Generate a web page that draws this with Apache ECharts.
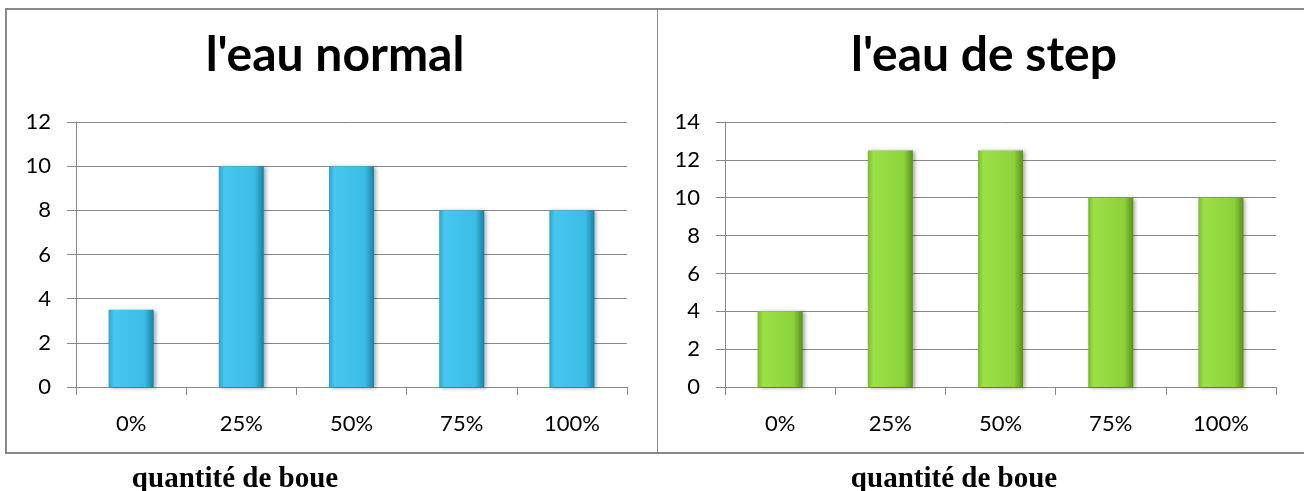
<!DOCTYPE html>
<html>
<head>
<meta charset="utf-8">
<script src="https://cdn.jsdelivr.net/npm/echarts@6/dist/echarts.min.js"></script>
<style>
  html, body { margin: 0; padding: 0; background: #ffffff; }
  #chart { width: 1304px; height: 491px; }
</style>
</head>
<body>
<div id="chart"></div>
<script>
// Sludge quantity categories shared by both panels
const categories = ['0%', '25%', '50%', '75%', '100%'];
// Values for ordinary water
const normalValues = [3.5, 10, 10, 8, 8];
// Values for treatment-plant (STEP) water
const stepValues = [4, 12.5, 12.5, 10, 10];
// Panel titles and axis caption
const titleNormal = "l'eau normal";
const titleStep = "l'eau de step";
const xCaption = 'quantité de boue';

const chart = echarts.init(document.getElementById('chart'), null, { renderer: 'canvas' });

const grey = '#888888';
const labelFont = 'Lato, "Open Sans", sans-serif';

function hGrad(stops) {
  return new echarts.graphic.LinearGradient(0, 0, 1, 0,
    stops.map(([o, c]) => ({ offset: o, color: c })));
}

const blueFill = hGrad([[0, '#2aa5cd'], [0.12, '#46c7ef'], [0.8, '#3cbde6'], [1, '#1b80a2']]);
const greenFill = hGrad([[0, '#79bd2b'], [0.12, '#9be045'], [0.8, '#8dd23a'], [1, '#58911e']]);

function yAxis(gridIndex, max) {
  return {
    type: 'value', gridIndex, min: 0, max, interval: 2,
    axisLine: { show: true, lineStyle: { color: grey, width: 1 } },
    axisTick: { show: true, length: 9, lineStyle: { color: grey } },
    splitLine: { show: true, lineStyle: { color: grey, width: 1 } },
    axisLabel: { color: '#000', fontFamily: labelFont, fontSize: 22, margin: 25 }
  };
}

function xAxis(gridIndex) {
  return {
    type: 'category', gridIndex, data: categories,
    axisLine: { show: true, lineStyle: { color: grey, width: 1 } },
    axisTick: { show: true, length: 8, lineStyle: { color: grey } },
    axisLabel: { color: '#000', fontFamily: labelFont, fontSize: 22, margin: 26 }
  };
}

function barSeries(idx, data, fill) {
  return {
    type: 'bar', xAxisIndex: idx, yAxisIndex: idx, data,
    barWidth: 45,
    itemStyle: {
      color: fill,
      shadowColor: 'rgba(0,0,0,0.35)', shadowBlur: 4, shadowOffsetX: 2, shadowOffsetY: 1
    },
    emphasis: { disabled: true }
  };
}

const titleStyle = { fontFamily: labelFont, fontWeight: 'bold', fontSize: 48, color: '#000' };
const captionStyle = { fontFamily: '"Liberation Serif", "Times New Roman", serif', fontWeight: 'bold', fontSize: 29, color: '#000' };

chart.setOption({
  animation: false,
  title: [
    { text: titleNormal, left: 330, top: 27, textAlign: 'center', textStyle: titleStyle },
    { text: titleStep, left: 979, top: 27, textAlign: 'center', textStyle: titleStyle },
    { text: xCaption, left: 230, top: 460, textAlign: 'center', textStyle: captionStyle },
    { text: xCaption, left: 949, top: 460, textAlign: 'center', textStyle: captionStyle }
  ],
  graphic: [
    { type: 'rect', z: -1, shape: { x: 6, y: 9, width: 1310, height: 444 },
      style: { fill: 'none', stroke: grey, lineWidth: 2 } },
    { type: 'line', z: -1, shape: { x1: 657.5, y1: 9, x2: 657.5, y2: 453 },
      style: { stroke: grey, lineWidth: 1 } }
  ],
  grid: [
    { left: 76, right: 677, top: 122, bottom: 104 },
    { left: 725, right: 28, top: 122, bottom: 104 }
  ],
  xAxis: [xAxis(0), xAxis(1)],
  yAxis: [yAxis(0, 12), yAxis(1, 14)],
  series: [
    barSeries(0, normalValues, blueFill),
    barSeries(1, stepValues, greenFill)
  ]
});
</script>
</body>
</html>
